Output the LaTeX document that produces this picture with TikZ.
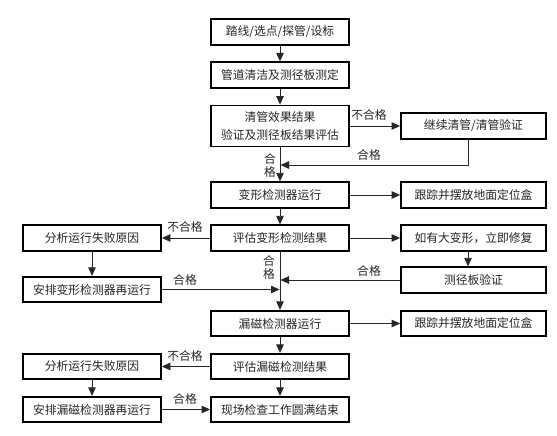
\documentclass[tikz,border=0pt]{standalone}
\usepackage{fontspec}
\setmainfont{Noto Sans CJK SC}
\usetikzlibrary{arrows.meta}
\begin{document}
\begin{tikzpicture}[x=1pt,y=-1pt,
 box/.style={draw,line width=1.8pt,minimum height=25.5pt,inner sep=0pt,text=black!85,font=\fontsize{11.8}{14}\selectfont},
 mainbox/.style={box,minimum width=138pt},
 rbox/.style={box,minimum width=145pt},
 lbox/.style={box,minimum width=138pt},
 conn/.style={line width=0.8pt,black!85,-{Triangle[length=8.5pt,width=7.5pt]}},
 lbl/.style={inner sep=0pt,text=black!85,font=\fontsize{11.8}{13}\selectfont,align=center}]
\useasboundingbox[fill=white] (0,0) rectangle (557,436);
\node[mainbox] (b1) at (280,32) {踏线/选点/探管/设标};
\node[mainbox] (b2) at (280,75) {管道清洁及测径板测定};
\node[mainbox,minimum height=41pt,align=center,font=\fontsize{11.8}{17.5}\selectfont] (b3) at (280,126) {清管效果结果\\验证及测径板结果评估};
\node[rbox] (r1) at (473.5,126) {继续清管/清管验证};
\node[mainbox] (b4) at (280,195) {变形检测器运行};
\node[rbox] (r2) at (473.5,195) {跟踪并摆放地面定位盒};
\node[mainbox] (b5) at (280,238) {评估变形检测结果};
\node[lbox] (l1) at (92,238) {分析运行失败原因};
\node[rbox] (r3) at (473.5,238) {如有大变形，立即修复};
\node[rbox] (r4) at (473.5,280) {测径板验证};
\node[lbox] (l2) at (92,289.5) {安排变形检测器再运行};
\node[mainbox] (b6) at (280,323.5) {漏磁检测器运行};
\node[rbox] (r5) at (473.5,323.5) {跟踪并摆放地面定位盒};
\node[mainbox] (b7) at (280,366.5) {评估漏磁检测结果};
\node[lbox] (l3) at (92,366.5) {分析运行失败原因};
\node[mainbox] (b8) at (280,409.5) {现场检查工作圆满结束};
\node[lbox] (l4) at (92,409.5) {安排漏磁检测器再运行};
\coordinate (f1) at (280.5,165);
\coordinate (f2) at (280.5,280);
\coordinate (f3) at (279.5,289.5);
\draw[conn] (b1.south) -- (b2.north);
\draw[conn] (b2.south) -- (b3.north);
\draw[conn] (b3.south) -- (b4.north);
\draw[conn] (b3.east) -- (r1.west);
\draw[conn] ([xshift=-5.5pt]r1.south) |- (f1);
\draw[conn] (b4.east) -- (r2.west);
\draw[conn] (b4.south) -- (b5.north);
\draw[conn] (b5.west) -- (l1.east);
\draw[conn] (b5.east) -- (r3.west);
\draw[conn] ([xshift=-5.5pt]r3.south) -- ([xshift=-5.5pt]r4.north);
\draw[conn] (l1.south) -- (l2.north);
\draw[conn] (b5.south) -- (b6.north);
\draw[conn] (r4.west) -- (f2);
\draw[conn] (l2.east) -- (f3);
\draw[conn] (b6.east) -- (r5.west);
\draw[conn] (b6.south) -- (b7.north);
\draw[conn] (b7.west) -- (l3.east);
\draw[conn] (b7.south) -- (b8.north);
\draw[conn] (l3.south) -- (l4.north);
\draw[conn] (l4.east) -- (b8.west);
\node[lbl] (t1) at (369,115) {不合格};
\node[lbl] (t2) at (369,155) {合格};
\node[lbl] (t3) at (270,165.5) {合\\格};
\node[lbl] (t4) at (185,227) {不合格};
\node[lbl] (t5) at (269,268) {合\\格};
\node[lbl] (t6) at (369,271) {合格};
\node[lbl] (t7) at (185,280) {合格};
\node[lbl] (t8) at (185,356.5) {不合格};
\node[lbl] (t9) at (185,399.5) {合格};
\end{tikzpicture}
\end{document}
